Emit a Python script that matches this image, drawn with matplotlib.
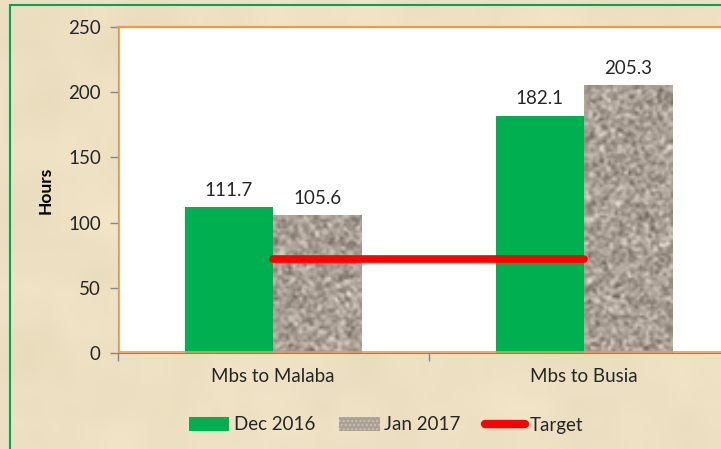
import numpy as np
import matplotlib.pyplot as plt
from matplotlib.patches import Rectangle, Patch
from matplotlib.lines import Line2D

# Chart data
categories = ['Mbs to Malaba', 'Mbs to Busia']
dec_2016 = [111.7, 182.1]
jan_2017 = [105.6, 205.3]
target = [72, 72]
series_names = ['Dec 2016', 'Jan 2017', 'Target']

plt.rcParams['font.family'] = ['Lato', 'DejaVu Sans']
FS = 13.5
TXT = '#262626'

W, H = 721, 449
fig = plt.figure(figsize=(W / 100, H / 100), dpi=100)
fig.patch.set_facecolor('#EEE1C3')

# parchment texture (styling only)
rng = np.random.default_rng(3)
bg = fig.add_axes([0, 0, 1, 1], zorder=-10)
n = rng.normal(size=(45, 72))
k = np.ones(5) / 5
n = np.apply_along_axis(lambda r: np.convolve(r, k, mode='same'), 1, n)
n = np.apply_along_axis(lambda c: np.convolve(c, k, mode='same'), 0, n)
base = np.array([238, 225, 195]) / 255
tex = np.clip(base[None, None, :] + 0.035 * n[:, :, None] * np.array([1, 1, 1.2]), 0, 1)
bg.imshow(tex, aspect='auto', interpolation='bicubic', extent=[0, 1, 0, 1])
bg.set_axis_off()

# green outer frame
fig.patches.append(Rectangle((10 / W, -0.1), 1.2, 1 - 5 / H + 0.1, transform=fig.transFigure,
                             fill=False, edgecolor='#00A550', linewidth=1.5))

# plot area
left, right = 117.5, 739.5
top, bottom = 27, 353
ax = fig.add_axes([left / W, 1 - bottom / H, (right - left) / W, (bottom - top) / H])
ax.set_facecolor('white')

x = np.arange(len(categories))
bw = 0.283
b1 = ax.bar(x - bw / 2, dec_2016, bw, color='#00B050', zorder=2)
b2 = ax.bar(x + bw / 2, jan_2017, bw, color='#ABA093', zorder=2)

# speckled texture on the Jan 2017 bars, grid sized to the bar's pixels
px_per_x = (right - left) / 2
px_per_y = (bottom - top) / 250
for bar in b2:
    nx = int(bar.get_width() * px_per_x / 2.2)
    ny = int(bar.get_height() * px_per_y / 2.2)
    spk = rng.normal(size=(ny, nx))
    spk = np.apply_along_axis(lambda r: np.convolve(r, np.ones(2) / 2, mode='same'), 1, spk)
    spk = np.apply_along_axis(lambda c: np.convolve(c, np.ones(2) / 2, mode='same'), 0, spk)
    img = np.clip(np.array([170, 159, 148])[None, None, :] / 255 + 0.15 * spk[:, :, None], 0, 1)
    im = ax.imshow(img, aspect='auto', interpolation='bilinear', zorder=2.1,
                   extent=[bar.get_x(), bar.get_x() + bar.get_width(), 0, bar.get_height()])
    im.set_clip_path(bar)

ax.plot(x, target, color='#FF0000', linewidth=5.5, solid_capstyle='round', zorder=3)

for bars, vals in ((b1, dec_2016), (b2, jan_2017)):
    for bar, v in zip(bars, vals):
        ax.annotate(f'{v:.1f}', (bar.get_x() + bar.get_width() / 2, v), xytext=(0, 6),
                    textcoords='offset points', ha='center', va='bottom', fontsize=FS, color=TXT)

ax.set_xlim(-0.5, 1.5)
ax.set_ylim(0, 250)
ax.set_yticks(range(0, 251, 50))
ax.set_xticks([-0.5, 0.5, 1.5], minor=False)
ax.set_xticklabels(['', '', ''])
ax.set_xticks(x, minor=True)
ax.set_xticklabels(categories, minor=True)
ax.tick_params(axis='x', which='minor', length=0, pad=11, labelsize=FS, labelcolor=TXT)
ax.tick_params(axis='x', which='major', length=6, color='#868686', width=1)
ax.tick_params(axis='y', length=6, color='#868686', width=1, labelsize=FS, labelcolor=TXT, pad=6)

for s in ('top', 'right'):
    ax.spines[s].set_color('#F79646')
    ax.spines[s].set_linewidth(1.5)
ax.spines['left'].set_color('#868686')
ax.spines['bottom'].set_color('#868686')
ax.axhline(250, color='#F79646', linewidth=1.5, zorder=5, clip_on=False)
# thin orange inner frame beside the grey axes
ax.plot([0.0025, 0.0025], [0, 1], transform=ax.transAxes, color='#F79646', linewidth=1.2, zorder=5)
ax.plot([0, 1], [0.004, 0.004], transform=ax.transAxes, color='#F79646', linewidth=1.2, zorder=5)
ax.set_ylabel('Hours', fontsize=12.5, fontweight='bold', color='black')
ax.yaxis.set_label_coords(-64 / (right - left), 0.5)

handles = [Patch(facecolor='#00B050'), Patch(facecolor='#ABA093', hatch='....', edgecolor='#C8C0B6', linewidth=0),
           Line2D([0], [0], color='#FF0000', linewidth=6, solid_capstyle='round')]
fig.legend(handles, series_names, loc='center', bbox_to_anchor=(386 / W, 1 - 425 / H), ncol=3,
           frameon=False, fontsize=FS, handlelength=2.15, handleheight=0.8, columnspacing=1.3,
           handletextpad=0.25, labelcolor=TXT)

fig.savefig('out.png', dpi=100, facecolor=fig.get_facecolor())
